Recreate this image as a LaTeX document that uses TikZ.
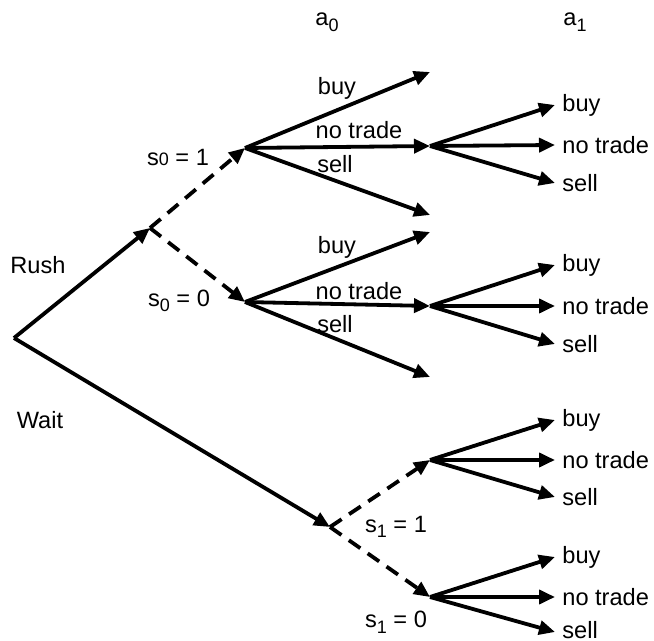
\documentclass[tikz,border=0pt]{standalone}
\usepackage{fontspec}
\setmainfont{Liberation Sans}
\usetikzlibrary{arrows.meta}
\begin{document}
\begin{tikzpicture}[x=0.5pt,y=-0.5pt,
  br/.style={line width=1.9pt,-{Triangle[length=8pt,width=7pt]}},
  dbr/.style={br,dash pattern=on 7pt off 4.5pt},
  lab/.style={font=\fontsize{11.8}{14}\selectfont, inner sep=0pt},
  leaf/.style={lab,anchor=west}]
\useasboundingbox (0,0) rectangle (654,641);
\newcommand{\sub}[1]{\raisebox{-0.45ex}{\fontsize{9}{10}\selectfont #1}}
% decision points
\coordinate (r) at (14,338);
\coordinate (rush) at (150,228);
\coordinate (wait) at (330,527);
\coordinate (h1) at (245,148);
\coordinate (h0) at (245,302);
\coordinate (n1) at (430,146);
\coordinate (b1) at (430,72);
\coordinate (se1) at (430,215);
\coordinate (n0) at (430,306);
\coordinate (b0) at (430,232);
\coordinate (se0) at (430,377);
\coordinate (w1) at (430,460);
\coordinate (w0) at (430,597);
% leaf arrow ends
\coordinate (n1b) at (555,105);
\coordinate (n1n) at (555,145);
\coordinate (n1s) at (555,183);
\coordinate (n0b) at (555,265);
\coordinate (n0n) at (555,306);
\coordinate (n0s) at (555,344);
\coordinate (w1b) at (555,420);
\coordinate (w1n) at (555,460);
\coordinate (w1s) at (555,497);
\coordinate (w0b) at (555,557);
\coordinate (w0n) at (555,597);
\coordinate (w0s) at (555,632);
% headers
\node[lab] (ha0) at (327,22) {a\sub{0}};
\node[lab] (ha1) at (575,22) {a\sub{1}};
% first move
\draw[br] (r) -- (rush);
\draw[br] (r) -- (wait);
\node[lab] (lrush) at (38,265) {Rush};
\node[lab] (lwait) at (40,420) {Wait};
% signals after rush
\draw[dbr] (rush) -- (h1);
\draw[dbr] (rush) -- (h0);
\node[lab] (ls01) at (178,158) {s{\fontsize{9}{10}\selectfont 0} = 1};
\node[lab] (ls00) at (179,301) {s\sub{0} = 0};
% a0 branches, s0=1
\draw[br] (h1) -- (b1);
\draw[br] (h1) -- (n1);
\draw[br] (h1) -- (se1);
\node[lab] (lb1) at (337,88) {buy};
\node[lab] (ln1) at (359,130) {no trade};
\node[lab] (ls1) at (335,164) {sell};
% a0 branches, s0=0
\draw[br] (h0) -- (b0);
\draw[br] (h0) -- (n0);
\draw[br] (h0) -- (se0);
\node[lab] (lb0) at (337,247) {buy};
\node[lab] (ln0) at (359,291) {no trade};
\node[lab] (ls0) at (335,324) {sell};
% a1 after no trade, s0=1
\draw[br] (n1) -- (n1b);
\draw[br] (n1) -- (n1n);
\draw[br] (n1) -- (n1s);
\node[leaf] (t1) at (562,105) {buy};
\node[leaf] (t2) at (562,145) {no trade};
\node[leaf] (t3) at (562,183) {sell};
% a1 after no trade, s0=0
\draw[br] (n0) -- (n0b);
\draw[br] (n0) -- (n0n);
\draw[br] (n0) -- (n0s);
\node[leaf] (t4) at (562,265) {buy};
\node[leaf] (t5) at (562,306) {no trade};
\node[leaf] (t6) at (562,344) {sell};
% signals after wait
\draw[dbr] (wait) -- (w1);
\draw[dbr] (wait) -- (w0);
\node[lab] (ls11) at (396,527) {s\sub{1} = 1};
\node[lab] (ls10) at (396,622) {s\sub{1} = 0};
% a1 after wait
\draw[br] (w1) -- (w1b);
\draw[br] (w1) -- (w1n);
\draw[br] (w1) -- (w1s);
\node[leaf] (t7) at (562,420) {buy};
\node[leaf] (t8) at (562,460) {no trade};
\node[leaf] (t9) at (562,497) {sell};
\draw[br] (w0) -- (w0b);
\draw[br] (w0) -- (w0n);
\draw[br] (w0) -- (w0s);
\node[leaf] (t10) at (562,557) {buy};
\node[leaf] (t11) at (562,597) {no trade};
\node[leaf] (t12) at (562,630) {sell};
\end{tikzpicture}
\end{document}
